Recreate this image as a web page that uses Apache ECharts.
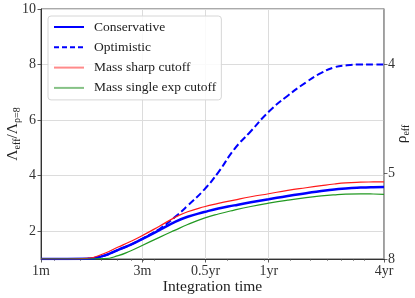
<!DOCTYPE html>
<html>
<head>
<meta charset="utf-8">
<script src="https://cdn.jsdelivr.net/npm/echarts@6/dist/echarts.min.js"></script>
<style>
html,body{margin:0;padding:0;background:#fff;}
#chart{width:415px;height:298px;}
</style>
</head>
<body>
<div id="chart"></div>
<script>
// Integration time in days (x)
const xDays = [30, 40, 50, 60, 70, 80, 90, 110, 130, 150, 180, 210, 250, 300, 365, 450, 550, 650, 750, 850, 1000, 1150, 1294];
const conservative = [1.0, 1.0, 1.005, 1.12, 1.33, 1.51, 1.70, 2.04, 2.33, 2.52, 2.69, 2.82, 2.93, 3.04, 3.15, 3.27, 3.37, 3.45, 3.50, 3.54, 3.57, 3.585, 3.59];
const optimistic   = [1.0, 1.0, 1.005, 1.12, 1.33, 1.51, 1.71, 2.08, 2.50, 2.92, 3.50, 4.12, 4.95, 5.60, 6.30, 6.88, 7.36, 7.70, 7.90, 7.97, 8.00, 8.00, 8.00];
const massSharp    = [1.0, 1.0, 1.02, 1.20, 1.43, 1.63, 1.82, 2.18, 2.49, 2.70, 2.88, 3.00, 3.12, 3.24, 3.35, 3.47, 3.565, 3.64, 3.70, 3.74, 3.765, 3.775, 3.78];
const massExp      = [1.0, 1.0, 1.0, 1.01, 1.12, 1.29, 1.47, 1.78, 2.03, 2.24, 2.47, 2.62, 2.76, 2.89, 3.01, 3.12, 3.21, 3.27, 3.31, 3.335, 3.345, 3.34, 3.33];

// x tick labels (days)
const xTickDays = [30, 91.3125, 182.625, 365.25, 1294];
const xTickLabels = ['1m', '3m', '0.5yr', '1yr', '4yr'];
// minor ticks (seconds)
const xMinorSeconds = [3e6, 4e6, 5e6, 6e6, 7e6, 8e6, 9e6, 2e7, 3e7, 4e7, 5e7, 6e7, 7e7, 8e7, 9e7];
// left y ticks
const yTicks = [2, 4, 6, 8, 10];
// right axis rho_eff ticks
const rhoTicks = [4, 5, 8];

const FONT = 'Liberation Serif';
const lg = Math.log10;
const xMin = lg(30), xMax = lg(1294);
const xTickPos = xTickDays.map(lg);
const xMinorPos = xMinorSeconds.map(s => lg(s / 86400));
const rhoPos = rhoTicks.map(r => Math.pow(8 / r, 3));

function pts(arr) { return xDays.map((d, i) => [lg(d), arr[i]]); }

const chart = echarts.init(document.getElementById('chart'), null, {renderer: 'canvas'});
const lineBase = {type: 'line', symbol: 'none', smooth: 0.5, xAxisIndex: 0, yAxisIndex: 0, clip: true};
const hide = {opacity: 0};

chart.setOption({
  animation: false,
  backgroundColor: '#fff',
  grid: {left: 41, right: 31, top: 9, bottom: 39, show: true, borderColor: '#555', borderWidth: 1,
    backgroundColor: 'transparent', containLabel: false, outerBoundsMode: 'none'},
  legend: {
    orient: 'vertical', left: 48, top: 16,
    padding: [4, 5, 5, 5],
    itemWidth: 30, itemHeight: 14, itemGap: 6.3,
    backgroundColor: 'rgba(255,255,255,0.85)', borderColor: '#d6d6d6', borderWidth: 1, borderRadius: 3,
    textStyle: {fontFamily: FONT, fontSize: 13.5, color: '#222', padding: [0, 0, 0, 5]},
    data: [
      {name: 'Conservative', itemStyle: hide, lineStyle: {color: '#0000ff', width: 2}},
      {name: 'Optimistic', itemStyle: hide, lineStyle: {color: '#0000ff', width: 2, type: [5, 3]}},
      {name: 'Mass sharp cutoff', itemStyle: hide, lineStyle: {color: '#ff8a8a', width: 2}},
      {name: 'Mass single exp cutoff', itemStyle: hide, lineStyle: {color: '#86c286', width: 2}}
    ]
  },
  xAxis: [{
    type: 'value', min: xMin, max: xMax,
    axisLine: {show: true, lineStyle: {color: '#333', width: 1}},
    axisTick: {show: true, customValues: xTickPos, length: 3.5, lineStyle: {color: '#333', width: 0.8}},
    axisLabel: {customValues: xTickPos, fontFamily: FONT, fontSize: 14, color: '#333', margin: 5,
      formatter: v => { const i = xTickPos.findIndex(p => Math.abs(p - v) < 1e-6); return i >= 0 ? xTickLabels[i] : ''; }},
    splitLine: {show: true, lineStyle: {color: '#dcdcdc', width: 1}},
    name: 'Integration time', nameLocation: 'middle', nameGap: 19.5, nameMoveOverlap: false,
    nameTextStyle: {fontFamily: FONT, fontSize: 15.5, color: '#222'}
  }, {
    type: 'value', min: xMin, max: xMax, position: 'bottom',
    axisLine: {show: false},
    axisTick: {show: true, customValues: xMinorPos, length: 2, lineStyle: {color: '#555', width: 0.6}},
    axisLabel: {show: true, customValues: xMinorPos, formatter: () => ''},
    splitLine: {show: false}
  }],
  yAxis: [{
    type: 'value', min: 1, max: 10, position: 'left',
    axisLine: {show: true, lineStyle: {color: '#333', width: 1}},
    axisTick: {show: true, customValues: yTicks, length: 3.5, lineStyle: {color: '#333', width: 0.8}},
    axisLabel: {customValues: yTicks, fontFamily: FONT, fontSize: 14, color: '#333', margin: 5},
    splitLine: {show: true, lineStyle: {color: '#dcdcdc', width: 1}},
    name: '{m|Λ}{s|eff}{m|/Λ}{s|ρ=8}', nameLocation: 'middle', nameGap: 19, nameRotate: 90, nameMoveOverlap: false,
    nameTextStyle: {rich: {
      m: {fontFamily: FONT, fontSize: 15.5, color: '#222', lineHeight: 18},
      s: {fontFamily: FONT, fontSize: 10, color: '#222', lineHeight: 10, verticalAlign: 'bottom'}
    }}
  }, {
    type: 'value', min: 1, max: 10, position: 'right',
    axisLine: {show: true, lineStyle: {color: '#999', width: 1.5}},
    axisTick: {show: true, customValues: rhoPos, length: 3.5, lineStyle: {color: '#444', width: 0.8}},
    axisLabel: {customValues: rhoPos, fontFamily: FONT, fontSize: 14, color: '#333', margin: 4,
      formatter: v => String(Math.round(8 / Math.cbrt(v)))},
    splitLine: {show: false},
    name: '{m|ρ}{s|eff}', nameLocation: 'middle', nameGap: 9, nameRotate: 90, nameMoveOverlap: false,
    nameTextStyle: {rich: {
      m: {fontFamily: FONT, fontSize: 15.5, color: '#222', lineHeight: 18},
      s: {fontFamily: FONT, fontSize: 10, color: '#222', lineHeight: 10, verticalAlign: 'bottom'}
    }}
  }],
  series: [
    Object.assign({}, lineBase, {name: 'Conservative', data: pts(conservative), lineStyle: {color: '#0000ff', width: 2.5}, itemStyle: {color: '#0000ff'}}),
    Object.assign({}, lineBase, {name: 'Optimistic', data: pts(optimistic), lineStyle: {color: '#0000ff', width: 2, type: [7, 3.2]}, itemStyle: {color: '#0000ff'}}),
    Object.assign({}, lineBase, {name: 'Mass sharp cutoff', data: pts(massSharp), lineStyle: {color: '#ff1a1a', width: 1.2}, itemStyle: {color: '#ff1a1a'}}),
    Object.assign({}, lineBase, {name: 'Mass single exp cutoff', data: pts(massExp), lineStyle: {color: '#229922', width: 1.2}, itemStyle: {color: '#229922'}})
  ]
});
</script>
</body>
</html>
